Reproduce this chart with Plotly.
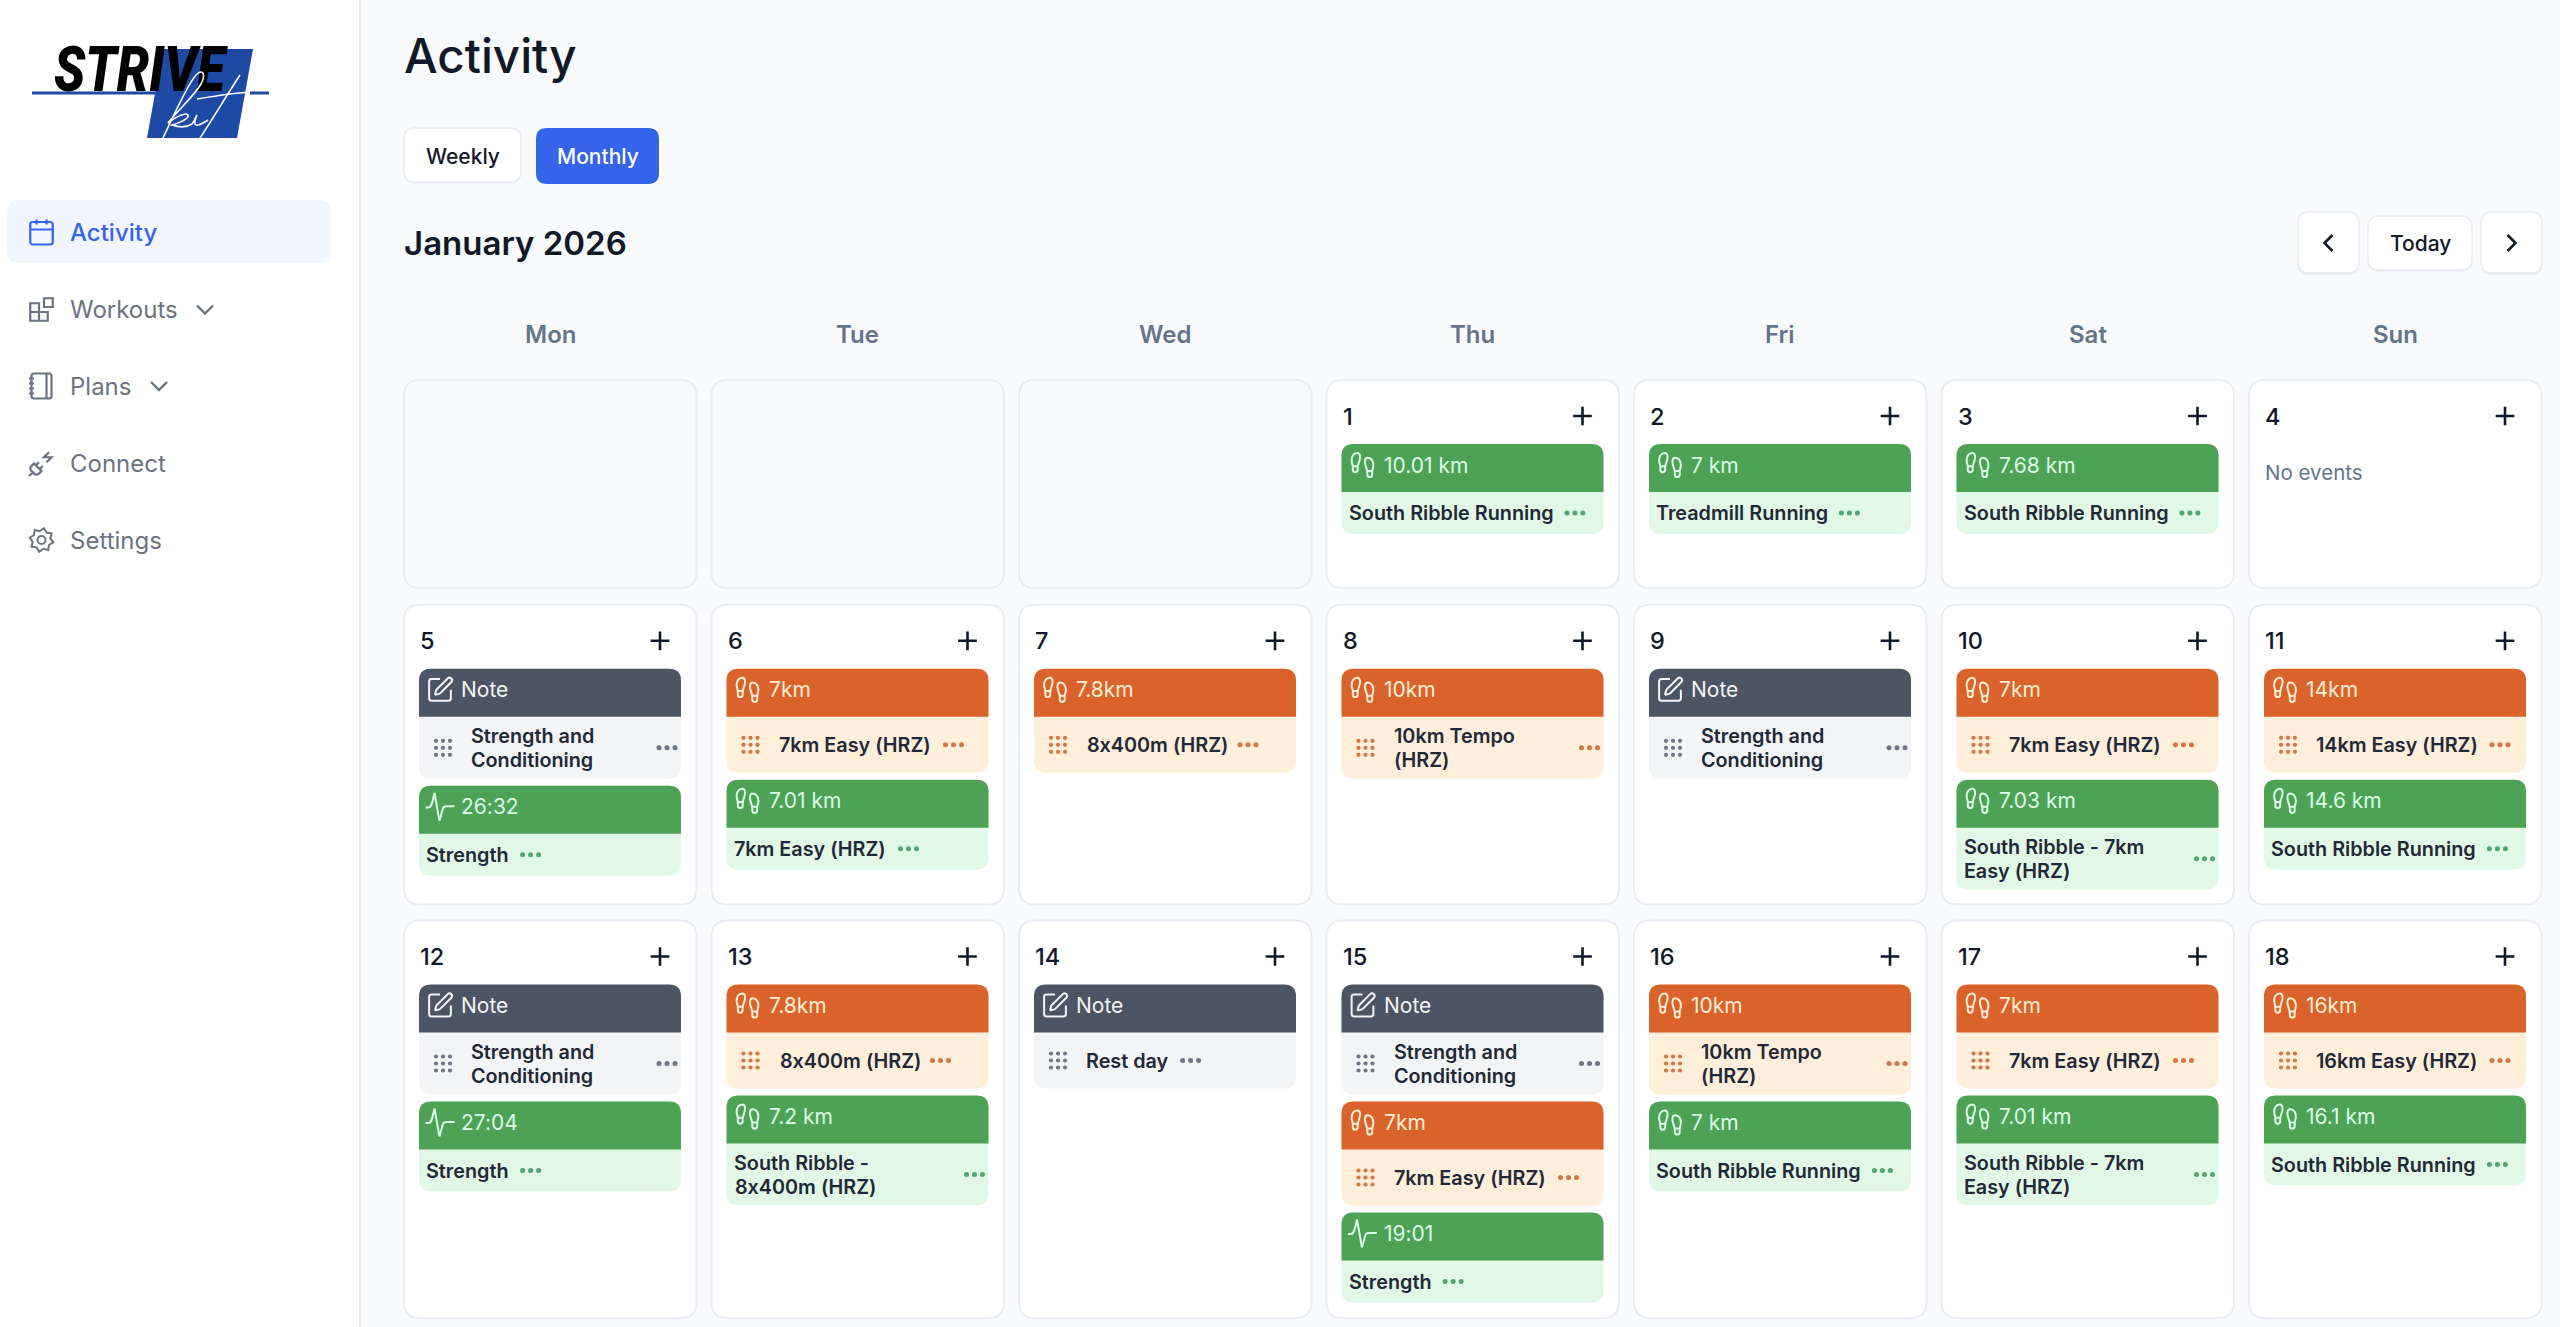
import math
import re
import plotly.graph_objects as go

# --- what the page shows ---
PAGE_TITLE = "Activity"
MONTH_TITLE = "January 2026"
VIEW_BUTTONS = ["Weekly", "Monthly"]
NAV_LABELS = ["Activity", "Workouts", "Plans", "Connect", "Settings"]
WEEKDAYS = ["Mon", "Tue", "Wed", "Thu", "Fri", "Sat", "Sun"]
DAY_NUMBERS = list(range(1, 19))
LEADING_BLANKS = 3

SC = "Strength and\nConditioning"
SRR = "South Ribble Running"
SR7 = "South Ribble - 7km\nEasy (HRZ)"
EASY7 = "7km Easy (HRZ)"

EVENT_DAY = [1, 2, 3, 5, 5, 6, 6, 7, 8, 9, 10, 10, 11, 11, 12, 12, 13, 13, 14, 15, 15, 15, 16, 16, 17, 17, 18, 18]
EVENT_KIND = ["done", "done", "done", "note", "strength", "planned", "done", "planned", "planned", "note",
              "planned", "done", "planned", "done", "note", "strength", "planned", "done", "note", "note",
              "planned", "strength", "planned", "done", "planned", "done", "planned", "done"]
EVENT_HEAD = ["10.01 km", "7 km", "7.68 km", "Note", "26:32", "7km", "7.01 km", "7.8km", "10km", "Note",
              "7km", "7.03 km", "14km", "14.6 km", "Note", "27:04", "7.8km", "7.2 km", "Note", "Note",
              "7km", "19:01", "10km", "7 km", "7km", "7.01 km", "16km", "16.1 km"]
EVENT_NAME = [SRR, "Treadmill Running", SRR, SC, "Strength", EASY7, EASY7, "8x400m (HRZ)", "10km Tempo\n(HRZ)", SC,
              EASY7, SR7, "14km Easy (HRZ)", SRR, SC, "Strength", "8x400m (HRZ)", "South Ribble -\n8x400m (HRZ)",
              "Rest day", SC, EASY7, "Strength", "10km Tempo\n(HRZ)", SRR, EASY7, SR7, "16km Easy (HRZ)", SRR]

# --- styles ---
FONT = "Inter"
BG = "#f9fafb"
BORDER = "#e9ecf2"
INK = "#111827"
BLUE = "#3563e9"
KIND_HEAD = {"note": "#4b5563", "planned": "#d9632a", "done": "#4ea256", "strength": "#4ea256"}
KIND_BODY = {"note": "#f3f4f6", "planned": "#feeeda", "done": "#e2f8e7", "strength": "#e2f8e7"}
KIND_HEAD_TEXT = {"note": "#f3f4f6", "planned": "#ffedd5", "done": "#dcfce7", "strength": "#dcfce7"}
KIND_DOT = {"note": "#374151", "planned": "#c2410c", "done": "#15803d", "strength": "#15803d"}

# icons, 24 unit box, absolute commands only
FOOT = ("M4 16 V13.62 C4 11.5 2.97 10.5 3 8 C3.03 5.28 4.49 2 7.5 2 C9.37 2 10 3.8 10 5.5 C10 8.61 8 11.16 8 14.18 V16 "
        "C8 18.67 4 18.67 4 16 Z M20 20 V17.62 C20 15.5 21.03 14.5 21 12 C20.97 9.28 19.51 6 16.5 6 C14.63 6 14 7.8 14 9.5 "
        "C14 12.61 16 15.16 16 18.18 V20 C16 22.67 20 22.67 20 20 Z M16 17 H20 M4 13 H8")
PEN = ("M12 3 H5 C3.9 3 3 3.9 3 5 V19 C3 20.1 3.9 21 5 21 H19 C20.1 21 21 20.1 21 19 V12 "
       "M18.4 2.6 C19.2 1.8 20.4 1.8 21.4 2.6 C22.2 3.6 22.2 4.8 21.4 5.6 L12.4 14.6 C12.1 14.9 11.8 15.1 11.5 15.2 "
       "L8.6 16 C8.3 16.1 7.9 15.7 8 15.4 L8.85 12.5 C8.95 12.2 9.1 11.9 9.4 11.6 Z")
PULSE = "M0 12.5 H2.5 C4.5 12.5 5 10.5 6 6.5 L7.5 0.5 L11.5 23.5 L14.5 13 C15 11.8 16 11.5 18 11.5 H24"
CALENDAR = ("M5 4 H19 C20.1 4 21 4.9 21 6 V20 C21 21.1 20.1 22 19 22 H5 C3.9 22 3 21.1 3 20 V6 C3 4.9 3.9 4 5 4 Z "
            "M16 2 V6 M8 2 V6 M3 10 H21")
BLOCKS = ("M14 3 H21 V10 H14 Z M10 21 V7 H3 V21 H17 V14 H3")
NOTEBOOK = ("M2 6 H6 M2 10 H6 M2 14 H6 M2 18 H6 M6 2 H18 C19.1 2 20 2.9 20 4 V20 C20 21.1 19.1 22 18 22 H6 "
            "C4.9 22 4 21.1 4 20 V4 C4 2.9 4.9 2 6 2 Z M16 2 V22")
PLUG = ("M6.3 20.3 C7.2 21.2 8.8 21.2 9.7 20.3 L12 18 L6 12 L3.7 14.3 C2.8 15.2 2.8 16.8 3.7 17.7 Z M2 22 L5 19 "
        "M7.5 13.5 L10 11 M10.5 16.5 L13 14 M18 3 L14 7 H20 L16 11")
CHEV_DOWN = "M6 9 L12 15 L18 9"
CHEV_LEFT = "M15 6 L9 12 L15 18"
CHEV_RIGHT = "M9 6 L15 12 L9 18"
PLUS = "M5 12 H19 M12 5 V19"

# rough advance widths for Inter, used to put the ... after a label
CHAR_W = {"a": .56, "b": .61, "c": .56, "d": .61, "e": .58, "f": .37, "g": .61, "h": .6, "i": .25, "k": .56, "l": .25,
          "m": .87, "n": .6, "o": .6, "p": .61, "r": .38, "s": .53, "t": .36, "u": .6, "v": .56, "w": .82, "x": .55,
          "y": .56, "E": .6, "H": .74, "R": .65, "S": .64, "T": .63, "Z": .63, " ": .28, "(": .38, ")": .38, "-": .42,
          "1": .45}


def text_width(s, size):
    return sum(CHAR_W.get(c, .63) for c in s) * size


shapes = []
notes = []
dot_x, dot_y, dot_c, dot_s = [], [], [], []


def round_rect(x0, y0, x1, y1, r=10, top_only=False):
    rb = 0 if top_only else r
    return (f"M{x0+r} {y0} H{x1-r} Q{x1} {y0} {x1} {y0+r} V{y1-rb} Q{x1} {y1} {x1-rb} {y1} H{x0+rb} "
            f"Q{x0} {y1} {x0} {y1-rb} V{y0+r} Q{x0} {y0} {x0+r} {y0} Z")


def box(x0, y0, x1, y1, fill, r=10, line=None, width=0, top_only=False):
    shapes.append(dict(type="path", path=round_rect(x0, y0, x1, y1, r, top_only), fillcolor=fill, layer="below",
                       line=dict(color=line or fill, width=width)))


def icon(path, cx, cy, size, color, width=2.0):
    s = size / 24
    x0, y0 = cx - size / 2, cy - size / 2
    out = []
    for cmd, args in re.findall(r"([MLHVCQZ])([^MLHVCQZ]*)", path):
        nums = [float(n) for n in args.split()]
        if cmd == "H":
            out.append(f"H{x0 + s * nums[0]:.2f}")
        elif cmd == "V":
            out.append(f"V{y0 + s * nums[0]:.2f}")
        elif cmd == "Z":
            out.append("Z")
        else:
            pts = [f"{x0 + s * nums[i]:.2f} {y0 + s * nums[i + 1]:.2f}" for i in range(0, len(nums), 2)]
            out.append(cmd + " ".join(pts))
    shapes.append(dict(type="path", path=" ".join(out), layer="below", line=dict(color=color, width=width)))


def gear(cx, cy, color):
    pts = []
    for i in range(16):
        a = math.pi * 2 * i / 16 + math.pi / 16
        r = 12 if i % 2 == 0 else 9
        pts.append((cx + r * math.cos(a), cy + r * math.sin(a)))
    shapes.append(dict(type="path", layer="below", line=dict(color=color, width=2),
                       path="M" + " L".join(f"{x:.1f} {y:.1f}" for x, y in pts) + " Z"))
    shapes.append(dict(type="circle", x0=cx - 4, x1=cx + 4, y0=cy - 4, y1=cy + 4, layer="below",
                       line=dict(color=color, width=2)))


def label(s, x, y, size, color, weight=400, anchor="left"):
    notes.append(dict(text=s, x=x, y=y, xref="x", yref="y", showarrow=False, xanchor=anchor, yanchor="middle",
                      borderpad=0, font=dict(family=FONT, size=size, color=color, weight=weight)))


def add_dots(xs, ys, color, size):
    for x in xs:
        for y in ys:
            dot_x.append(x)
            dot_y.append(y)
            dot_c.append(color)
            dot_s.append(size)


# --- sidebar ---
box(-5, -5, 360, 1335, "#ffffff", r=0, line="#e5e7eb", width=2)
box(7, 200, 331, 263, "#f1f5fe", r=12)

NAV_Y = [232, 309.5, 386, 463.5, 540]
NAV_ICONS = [CALENDAR, BLOCKS, NOTEBOOK, PLUG, None]
for i, name in enumerate(NAV_LABELS):
    col = BLUE if i == 0 else "#6b7280"
    label(name, 69, NAV_Y[i], 24, col, 500 if i == 0 else 400)
    if NAV_ICONS[i]:
        icon(NAV_ICONS[i], 41.5, NAV_Y[i], 30, col, 2.2)
    else:
        gear(41.5, NAV_Y[i], col)
icon(CHEV_DOWN, 205, NAV_Y[1], 32, "#6b7280", 2.4)
icon(CHEV_DOWN, 159, NAV_Y[2], 32, "#6b7280", 2.4)

# logo
shapes.append(dict(type="path", path="M163 49 H253 L237 138 H147 Z", fillcolor="#1e4aa6", layer="below",
                   line=dict(width=0)))
shapes.append(dict(type="path", path="M32 93 H155 M250 93 H269", layer="below", line=dict(color="#1e4aa6", width=3)))
KIT_STROKES = ["M163 138 C175 112 190 80 197 74 C203 69 206 74 201 84 C194 96 180 108 168 123",
               "M168 123 C175 117 186 112 188 115 C190 119 176 124 172 125 C178 127 186 128 192 124 "
               "C195 120 196 116 197 115 C194 122 194 126 198 125 C202 124 205 122 208 120",
               "M240 75 C225 98 212 120 200 138",
               "M197 99 C215 96 235 93 250 92"]
for p in KIT_STROKES:
    shapes.append(dict(type="path", path=p, layer="above", line=dict(color="#ffffff", width=1.6)))

# --- header ---
label(PAGE_TITLE, 403, 55, 47.5, INK, 500)
label(MONTH_TITLE, 403, 243, 33, INK, 600)
box(404, 130, 521, 184, "#eef0f4", r=11)
box(404, 128, 521, 182, "#ffffff", r=11, line="#e8ebf0", width=1.5)
box(536, 128, 659, 184, BLUE, r=11)
label(VIEW_BUTTONS[0], 462.5, 156, 21, INK, 500, "center")
label(VIEW_BUTTONS[1], 597.5, 156, 21, "#ffffff", 500, "center")

for x0, x1, y0, y1 in [(2298, 2359, 212, 273), (2368, 2472, 216, 270), (2481, 2542, 212, 273)]:
    box(x0, y0 + 2, x1, y1 + 2, "#eef0f4", r=11)
    box(x0, y0, x1, y1, "#ffffff", r=11, line="#e8ebf0", width=1.5)
icon(CHEV_LEFT, 2328.5, 243, 32, INK, 2.6)
icon(CHEV_RIGHT, 2511.5, 243, 32, INK, 2.6)
label("Today", 2420, 243, 21, INK, 500, "center")

# --- calendar grid ---
COL_X = [404 + 307.5 * i for i in range(7)]
CARD_W = 292.5
ROW_TOP = [380, 604.8, 920.5]
ROW_BOTTOM = [588, 904.5, 1318]
EV_INSET, EV_W, HEAD_H, GAP = 15, 262, 48, 7

for i, d in enumerate(WEEKDAYS):
    label(d, COL_X[i] + CARD_W / 2, 334, 24, "#64748b", 600, "center")

for c in range(LEADING_BLANKS):
    box(COL_X[c], ROW_TOP[0], COL_X[c] + CARD_W, ROW_BOTTOM[0], "#f8f9fb", r=16, line=BORDER, width=2)

for day in DAY_NUMBERS:
    pos = day + LEADING_BLANKS - 1
    r, c = pos // 7, pos % 7
    x, top = COL_X[c], ROW_TOP[r]
    box(x, top, x + CARD_W, ROW_BOTTOM[r], "#ffffff", r=16, line=BORDER, width=2)
    label(str(day), x + 15, top + 36, 23.5, INK, 500)
    icon(PLUS, x + 256, top + 36, 32, INK, 2.6)

    cur = top + 64
    left = x + EV_INSET
    right = left + EV_W
    todays = [j for j, ev_day in enumerate(EVENT_DAY) if ev_day == day]
    if not todays:
        label("No events", left, top + 92, 20.5, "#64748b")
    for j in todays:
        kind = EVENT_KIND[j]
        lines = EVENT_NAME[j].split("\n")
        grip = kind in ("note", "planned")
        if len(lines) == 2:
            body_h = 62
        else:
            body_h = 56 if grip else 42
        head_end = cur + HEAD_H
        mid = head_end + body_h / 2
        box(left, cur, right, head_end + body_h, KIND_BODY[kind], r=12)
        box(left, cur, right, head_end, KIND_HEAD[kind], r=12, top_only=True)

        glyph = {"note": PEN, "strength": PULSE}.get(kind, FOOT)
        icon(glyph, left + 21, cur + 21, 29, KIND_HEAD_TEXT[kind], 2.0)
        label(EVENT_HEAD[j], left + 41, cur + 21, 21, KIND_HEAD_TEXT[kind])

        text_x = left + 51 if grip else left + 6
        if grip:
            add_dots([left + 17, left + 24, left + 31], [mid - 7, mid, mid + 7], KIND_DOT[kind], 4.2)
        if len(lines) == 2:
            label(lines[0], text_x, mid - 12, 19.8, "#1f2937", 600)
            label(lines[1], text_x, mid + 12, 19.8, "#1f2937", 600)
            add_dots([right - 22, right - 14, right - 6], [mid], KIND_DOT[kind], 5)
        else:
            label(lines[0], text_x, mid, 19.8, "#1f2937", 600)
            end = text_x + text_width(lines[0], 20)
            add_dots([end + 15, end + 23, end + 31], [mid], KIND_DOT[kind], 5)
        cur = head_end + body_h + GAP

fig = go.Figure()
fig.add_trace(go.Scatter(x=[54], y=[75], mode="text", text=["STRIVE"], textposition="middle right", hoverinfo="skip",
                         textfont=dict(family="Roboto", size=63, color="#000000", weight=900, style="italic")))
fig.add_trace(go.Scatter(x=dot_x, y=dot_y, mode="markers", hoverinfo="skip",
                         marker=dict(color=dot_c, size=dot_s, line=dict(width=0))))
fig.update_layout(width=2560, height=1327, margin=dict(l=0, r=0, t=0, b=0), showlegend=False,
                  paper_bgcolor=BG, plot_bgcolor=BG, shapes=shapes, annotations=notes,
                  xaxis=dict(range=[0, 2560], visible=False, fixedrange=True),
                  yaxis=dict(range=[1327, 0], visible=False, fixedrange=True))

# page margin off, keep a plain x in 8x400m, squeeze the logo word to its width
POST = """
document.body.style.margin='0';document.body.style.overflow='hidden';
document.head.insertAdjacentHTML('beforeend','<style>text{font-feature-settings:"calt" 0;}</style>');
var logo=document.querySelector('.textpoint text');
if(logo){logo.setAttribute('textLength','171');logo.setAttribute('lengthAdjust','spacingAndGlyphs');}
"""
fig.write_html("out.html", config={"displayModeBar": False}, post_script=POST)
